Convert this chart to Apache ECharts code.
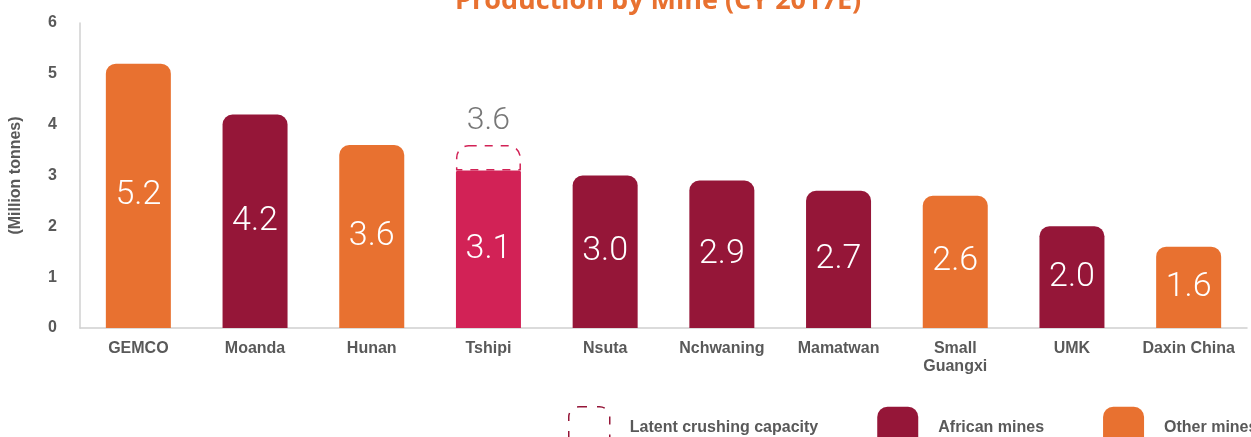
<!DOCTYPE html>
<html>
<head>
    <meta charset="utf-8">
    <script src="https://cdn.jsdelivr.net/npm/echarts@6/dist/echarts.min.js"></script>
    <style>
        html, body { margin: 0; padding: 0; background: #fff; }
        #main { width: 1251px; height: 437px; }
    </style>
</head>
<body>
<div id="main"></div>
<script>
    // 矿山名称
    var mines = ['GEMCO', 'Moanda', 'Hunan', 'Tshipi', 'Nsuta', 'Nchwaning', 'Mamatwan', 'Small\nGuangxi', 'UMK', 'Daxin China'];
    // 产量 (Million tonnes)
    var output = [5.2, 4.2, 3.6, 3.1, 3.0, 2.9, 2.7, 2.6, 2.0, 1.6];
    // 是否非洲矿山
    var isAfrican = [false, true, false, true, true, true, true, false, true, false];
    // 潜在破碎能力 (总量)
    var latentCapacity = [null, null, null, 3.6, null, null, null, null, null, null];
    var yTicks = [0, 1, 2, 3, 4, 5, 6];

    var orange = '#E87130';
    var darkRed = '#951638';
    var pink = '#D22256';
    var grey = '#595959';

    var otherData = [], africanData = [], latentData = [];
    for (var i = 0; i < mines.length; i++) {
        otherData.push(isAfrican[i] ? '-' : output[i]);
        if (!isAfrican[i]) {
            africanData.push('-');
        } else if (latentCapacity[i] != null) {
            // Tshipi: 顶部放潜在产能虚线框
            africanData.push({ value: output[i], itemStyle: { color: pink, borderRadius: [2, 2, 0, 0] } });
        } else {
            africanData.push(output[i]);
        }
        latentData.push(latentCapacity[i] == null ? '-' : +(latentCapacity[i] - output[i]).toFixed(2));
    }

    var barLabel = {
        show: true,
        position: 'inside',
        color: '#fff',
        fontFamily: 'Roboto',
        fontWeight: 300,
        fontSize: 34,
        formatter: function (p) { return (+p.value).toFixed(1); }
    };

    var myChart = echarts.init(document.getElementById('main'));
    var option = {
        animation: false,
        title: {
            text: 'Production by Mine (CY 2017E)',
            left: 455,
            top: -12,
            padding: 0,
            textStyle: { color: orange, fontSize: 27, fontWeight: 'bold', fontFamily: 'Open Sans' }
        },
        grid: { left: 77, right: 4, top: 23, bottom: 109 },
        legend: {
            left: 563,
            top: 401,
            width: 1000,
            itemWidth: 41,
            itemHeight: 41,
            itemGap: 59,
            icon: 'roundRect',
            textStyle: { color: grey, fontWeight: 'bold', fontSize: 16, fontFamily: 'Liberation Sans', padding: [0, 0, 0, 15] },
            data: [
                { name: 'Latent crushing capacity', itemStyle: { color: 'rgba(0,0,0,0)', borderColor: darkRed, borderWidth: 1.5, borderType: [8, 10] } },
                { name: 'African mines', itemStyle: { color: darkRed } },
                { name: 'Other mines', itemStyle: { color: orange } }
            ]
        },
        xAxis: {
            type: 'category',
            data: mines,
            axisLine: { lineStyle: { color: '#d0d0d0', width: 1.5 } },
            axisTick: { show: false },
            axisLabel: { color: grey, fontWeight: 'bold', fontSize: 16, fontFamily: 'Liberation Sans', margin: 12, lineHeight: 18, interval: 0 }
        },
        yAxis: {
            type: 'value',
            min: yTicks[0],
            max: yTicks[yTicks.length - 1],
            interval: 1,
            name: '(Million tonnes)',
            nameLocation: 'middle',
            nameRotate: 90,
            nameGap: 56,
            nameTextStyle: { color: grey, fontWeight: 'bold', fontSize: 16, fontFamily: 'Liberation Sans' },
            axisLine: { show: true, lineStyle: { color: '#d0d0d0', width: 1.5 } },
            axisTick: { show: false },
            splitLine: { show: false },
            axisLabel: { color: grey, fontWeight: 'bold', fontSize: 16, fontFamily: 'Liberation Sans', margin: 23 }
        },
        series: [
            {
                name: 'Other mines',
                type: 'bar',
                stack: 'mine',
                barWidth: 65,
                data: otherData,
                itemStyle: { color: orange, borderRadius: [10, 10, 0, 0] },
                label: barLabel
            },
            {
                name: 'African mines',
                type: 'bar',
                stack: 'mine',
                barWidth: 65,
                data: africanData,
                itemStyle: { color: darkRed, borderRadius: [10, 10, 0, 0] },
                label: barLabel
            },
            {
                name: 'Latent crushing capacity',
                type: 'bar',
                stack: 'mine',
                barWidth: 65,
                data: latentData,
                itemStyle: { color: 'rgba(0,0,0,0)', borderColor: pink, borderWidth: 1.5, borderType: [8, 8], borderRadius: [12, 12, 0, 0] },
                label: {
                    show: true,
                    position: 'top',
                    distance: 8,
                    color: '#777',
                    fontFamily: 'Roboto',
                    fontWeight: 300,
                    fontSize: 32,
                    formatter: function (p) { return latentCapacity[p.dataIndex].toFixed(1); }
                }
            }
        ]
    };
    myChart.setOption(option);
</script>
</body>
</html>
